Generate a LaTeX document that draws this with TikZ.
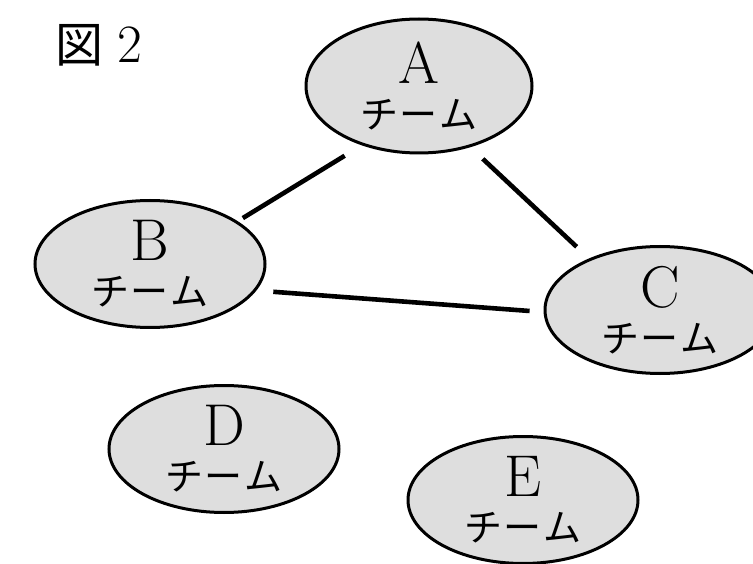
\documentclass[tikz,border=0pt]{standalone}
\usepackage{fontspec}
\newfontfamily\jfont{Noto Sans CJK JP}
\usetikzlibrary{shapes.geometric}
\tikzset{
  team/.style={ellipse, draw=black, line width=3pt, fill=black!13,
               minimum width=230pt, minimum height=127pt, inner sep=0pt,
               align=center, font=\fontsize{38}{45}\selectfont},
  link/.style={line width=4.6pt}
}
\newcommand{\teamlabel}[1]{%
  {\fontsize{59}{45}\selectfont #1}\\
  {\jfont チ\hspace{2pt}ー\hspace{2pt}ム}}

\begin{document}
\begin{tikzpicture}[x=1pt,y=-1pt]
\useasboundingbox (0,0) rectangle (753,564);
\clip (0,0) rectangle (753,564);

\node (fig) at (99,45) {{\jfont\fontsize{48}{48}\selectfont 図}\hspace{14pt}{\fontsize{54}{54}\selectfont 2}};

\node[team, minimum width=226pt, minimum height=134pt] (A) at (419,86) {\teamlabel{A}};
\node[team] (B) at (150,264) {\teamlabel{B}};
\node[team] (C) at (660,310) {\teamlabel{C}};
\node[team] (D) at (224,449) {\teamlabel{D}};
\node[team] (E) at (523,500) {\teamlabel{E}};

% lines between teams
\draw[link, shorten <=6pt, shorten >=20pt] (B.26) -- (A.226);
\draw[link, shorten <=17pt, shorten >=17pt] (A.310) -- (C.144);
\draw[link, shorten <=17pt, shorten >=14pt] (B.346) -- (C.181);

\end{tikzpicture}
\end{document}
